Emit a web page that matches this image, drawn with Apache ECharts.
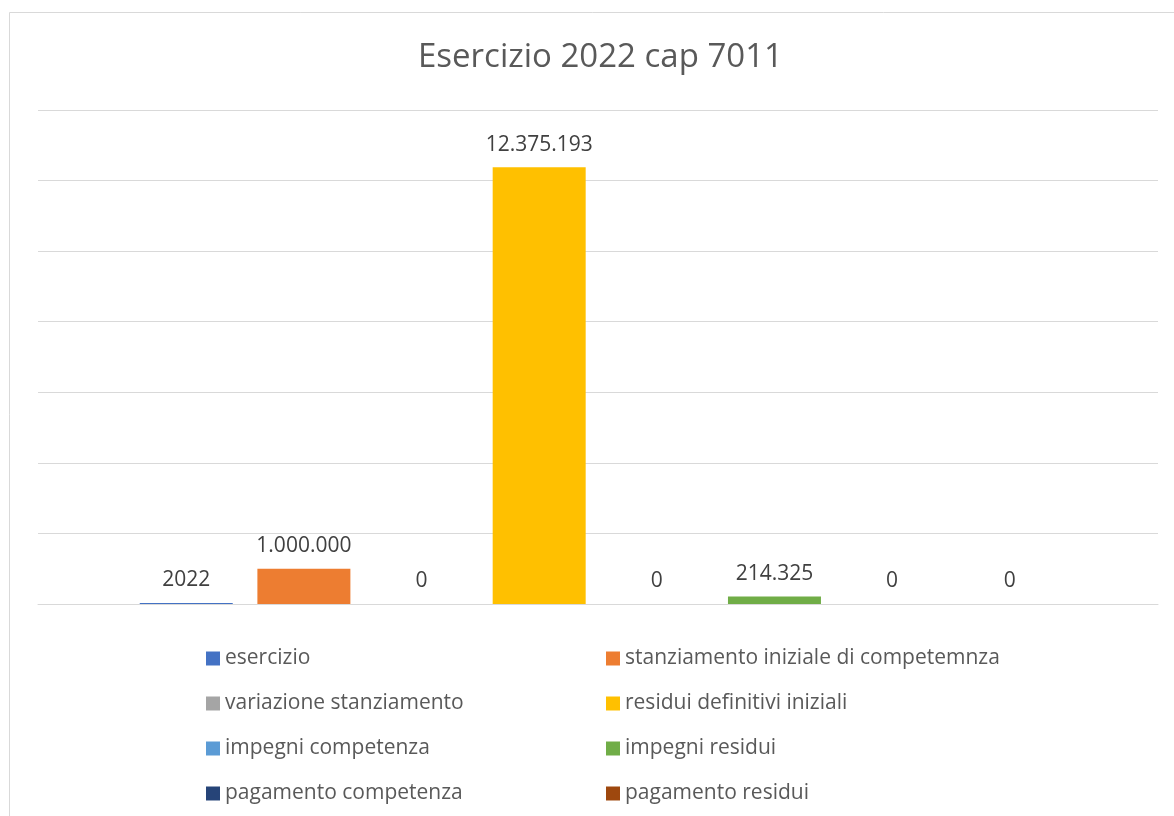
<!DOCTYPE html>
<html>
<head>
<meta charset="utf-8">
<script src="https://cdn.jsdelivr.net/npm/echarts@6/dist/echarts.min.js"></script>
<style>
html,body{margin:0;padding:0;background:#fff;}
#chart{width:1174px;height:816px;}
</style>
</head>
<body>
<div id="chart"></div>
<script>
const titleText = 'Esercizio 2022 cap 7011';
const categories = ['2022'];
const seriesNames = [
  'esercizio',
  'stanziamento iniziale di competemnza',
  'variazione stanziamento',
  'residui definitivi iniziali',
  'impegni competenza',
  'impegni residui',
  'pagamento competenza',
  'pagamento residui'
];
const seriesValues = [2022, 1000000, 0, 12375193, 0, 214325, 0, 0];
const seriesColors = ['#4472C4', '#ED7D31', '#A5A5A5', '#FFC000', '#5B9BD5', '#70AD47', '#264478', '#9E480E'];
const legendCol1 = [seriesNames[0], seriesNames[2], seriesNames[4], seriesNames[6]];
const legendCol2 = [seriesNames[1], seriesNames[3], seriesNames[5], seriesNames[7]];
const yMax = 14000000;
const yInterval = 2000000;

function fmt(v) {
  if (Math.abs(v) < 10000) return String(v);
  return String(v).replace(/\B(?=(\d{3})+(?!\d))/g, '.');
}

const FONT = '"Open Sans", Lato, sans-serif';

const chart = echarts.init(document.getElementById('chart'), null, {renderer: 'canvas'});
const series = seriesNames.map((name, i) => ({
  name: name,
  type: 'bar',
  data: [seriesValues[i]],
  barWidth: 93,
  barGap: '26.5%',
  barMinHeight: i === 0 ? 1 : 0,
  itemStyle: {color: seriesColors[i]},
  label: {
    show: true,
    position: 'top',
    distance: 12,
    color: '#404040',
    fontSize: 21,
    fontFamily: FONT,
    formatter: p => fmt(p.value)
  }
}));

chart.setOption({
  animation: false,
  backgroundColor: '#ffffff',
  title: {
    text: titleText,
    left: 413,
    top: 36,
    textStyle: {fontSize: 33, fontWeight: 'normal', color: '#595959', fontFamily: FONT}
  },
  graphic: [{
    type: 'rect',
    shape: {x: 9.5, y: 12.5, width: 1180, height: 820},
    style: {fill: 'none', stroke: '#d9d9d9', lineWidth: 1},
    silent: true
  }],
  legend: [{
    orient: 'vertical',
    left: 201,
    top: 643,
    data: legendCol1,
    icon: 'rect',
    itemWidth: 14,
    itemHeight: 14,
    itemGap: 24,
    textStyle: {fontSize: 21, color: '#595959', fontFamily: FONT}
  }, {
    orient: 'vertical',
    left: 601,
    top: 643,
    data: legendCol2,
    icon: 'rect',
    itemWidth: 14,
    itemHeight: 14,
    itemGap: 24,
    textStyle: {fontSize: 21, color: '#595959', fontFamily: FONT}
  }],
  grid: {left: 38, right: 16, top: 110, height: 494, containLabel: false},
  xAxis: {
    type: 'category',
    data: categories,
    axisLine: {show: true, lineStyle: {color: '#d9d9d9', width: 1}},
    axisTick: {show: false},
    axisLabel: {show: false}
  },
  yAxis: {
    type: 'value',
    min: 0,
    max: yMax,
    interval: yInterval,
    axisLine: {show: false},
    axisTick: {show: false},
    axisLabel: {show: false},
    splitLine: {lineStyle: {color: '#d9d9d9', width: 1}}
  },
  series: series
});
</script>
</body>
</html>
